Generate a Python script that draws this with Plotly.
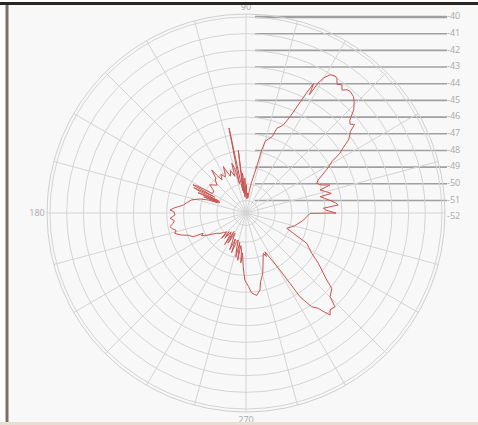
import plotly.graph_objects as go

# Measured radiation pattern: azimuth (deg) and received level (dB)
angle_deg = [
    0, 2, 3.5, 5, 6.5, 8.8, 10.5, 12.4, 12.9, 15, 17.3, 18.4, 20.5, 22.8, 24.5,
    27.2, 29, 30.9, 32.4, 34, 35.5, 37, 38, 39.2, 40.5, 41.8, 43.8, 45.5, 47.3,
    49.4, 50.7, 52, 53.2, 54.7, 56, 57, 58.7, 60.1, 61, 61.8, 62.4, 63.2, 64.2,
    65.4, 67, 68.5, 70, 71, 73, 75, 76, 77, 78, 80, 81.5, 83, 85, 87, 89, 90,
    92, 93.5, 95, 96, 97, 98, 99.5, 101.3, 102.5, 104, 106, 106.9, 110, 113,
    115, 116, 118, 120, 123, 126, 127.7, 128.6, 131, 133, 136, 138, 142, 145,
    147, 150, 151, 152, 153, 154, 155, 156, 157, 158, 159, 160, 161, 163, 166.5,
    170, 172.7, 174.7, 176, 177.7, 179, 181.6, 184, 186, 188, 190, 191.6, 194,
    196, 198.9, 201, 204.2, 205.4, 207, 210.3, 212, 214.7, 218, 221, 224, 226,
    228, 230, 232, 234, 236, 237, 239, 241.5, 244, 246, 248, 250, 252, 254, 255,
    257, 258, 260, 261, 263, 264, 265, 267, 268, 269, 272, 274, 277.4, 280.3,
    282, 284, 285.5, 288, 290, 293.2, 295, 296.1, 298.7, 300.8, 302, 302.8, 305,
    307.2, 308, 309.5, 311, 313.5, 315.1, 318.7, 320.3, 323, 325.2, 328.5,
    333.5, 336.8, 339.4, 345, 352, 359.7, 360,
]
level_db = [
    -46.35, -46.95, -47.1, -46.2, -46.35, -46.7, -46.95, -47.2, -46.5, -46.8,
    -47.1, -46.45, -46.95, -47.15, -47.0, -46.5, -46.1, -45.75, -45.1, -44.7,
    -44.2, -43.95, -43.8, -43.35, -43.55, -43.4, -42.8, -42.5, -42.25, -42.15,
    -42.2, -42.4, -42.15, -42.3, -42.0, -41.95, -42.05, -42.4, -42.85, -43.7,
    -42.99, -43.65, -44.55, -45.4, -46.0, -46.2, -46.35, -46.9, -47.1, -47.3,
    -47.85, -48.9, -49.35, -49.95, -50.4, -50.85, -50.55, -50.9, -50.05, -50.65,
    -49.65, -50.8, -49.35, -50.55, -47.95, -50.4, -49.95, -46.55, -49.95, -49.05,
    -48.65, -49.45, -49.05, -49.35, -49.0, -48.65, -49.1, -49.25, -48.99, -49.3,
    -48.87, -48.45, -48.99, -49.05, -49.35, -49.25, -49.0, -49.35, -49.45, -49.4,
    -48.45, -48.15, -49.65, -48.27, -48.75, -49.95, -48.63, -50.07, -49.05, -49.95,
    -49.35, -48.87, -48.39, -48.15, -47.97, -47.67, -47.43, -47.19, -47.43, -47.49,
    -47.19, -47.43, -47.35, -47.13, -47.19, -47.43, -47.31, -47.67, -48.03, -48.28,
    -48.91, -48.75, -49.13, -49.35, -49.61, -49.77, -49.95, -50.13, -49.65, -50.25,
    -49.77, -50.31, -50.13, -49.47, -50.43, -49.65, -50.37, -49.95, -49.35, -50.07,
    -49.23, -49.95, -50.07, -49.65, -49.05, -49.95, -48.87, -49.77, -49.53, -48.75,
    -49.35, -48.53, -48.15, -47.73, -47.33, -46.95, -46.77, -47.07, -47.55, -47.81,
    -47.99, -48.45, -48.75, -49.12, -48.87, -49.16, -48.53, -47.77, -46.77, -45.77,
    -44.89, -44.57, -44.29, -43.82, -44.07, -44.0, -44.63, -44.91, -45.46, -46.06,
    -46.47, -47.13, -47.68, -48.66, -49.14, -48.75, -48.33, -47.91, -46.35,
]

# Radial scale
r_min, r_max = -51.75, -39.82
ring_ticks = [-51, -50, -49, -48, -47, -46, -45, -44, -43, -42, -41, -40]
scale_labels = [-40, -41, -42, -43, -44, -45, -46, -47, -48, -49, -50, -51, -52]

# Angular grid every 15 deg, labels only on the cardinal directions
spoke_angles = list(range(0, 360, 15))
spoke_text = [str(a) if a in (90, 180, 270) else "" for a in spoke_angles]

W, H = 478, 425
cx, cy, R = 246, 213, 199  # plot centre and outer radius in pixels

grid_col = "#d4d4d4"
label_col = "#a8a8a8"

fig = go.Figure()

# Pattern curve
fig.add_trace(go.Scatterpolar(
    r=level_db, theta=angle_deg, mode="lines",
    line=dict(color="#c8524f", width=1),
    hoverinfo="skip",
))

# Level scale: horizontal guide lines with labels to the right
def frac(v):
    return (v - r_min) / (r_max - r_min)

for v in scale_labels:
    y = frac(v)
    if v != -52:
        fig.add_trace(go.Scatter(
            x=[0.045, 1.01], y=[y, y], mode="lines",
            line=dict(color="#a0a0a0", width=1.6 if v != -40 else 2.6),
            xaxis="x", yaxis="y", hoverinfo="skip",
        ))
    fig.add_trace(go.Scatter(
        x=[1.01], y=[y], mode="text", text=[str(v)],
        textposition="middle right",
        textfont=dict(size=9, color=label_col, family="Open Sans"),
        xaxis="x", yaxis="y", hoverinfo="skip", cliponaxis=False,
    ))

xd = [(cx - R) / W, 1.0]
yd = [1 - (cy + R) / H, 1 - (cy - R) / H]

fig.update_layout(
    width=W, height=H,
    margin=dict(l=0, r=0, t=0, b=0),
    paper_bgcolor="#f8f8f8",
    plot_bgcolor="rgba(0,0,0,0)",
    showlegend=False,
    polar=dict(
        domain=dict(x=[(cx - R) / W, (cx + R) / W], y=yd),
        bgcolor="rgba(0,0,0,0)",
        radialaxis=dict(
            range=[r_min, r_max], tickvals=ring_ticks,
            showticklabels=False, ticks="", showline=False,
            gridcolor=grid_col, gridwidth=1,
        ),
        angularaxis=dict(
            rotation=0, direction="counterclockwise",
            tickvals=spoke_angles, ticktext=spoke_text, ticks="",
            gridcolor=grid_col, gridwidth=1,
            showline=True, linecolor="#cfcfcf", linewidth=1,
            tickfont=dict(size=9, color=label_col, family="Open Sans"),
        ),
    ),
    xaxis=dict(domain=xd, range=[-1, (W - (cx - R)) / R - 1], visible=False,
               fixedrange=True),
    yaxis=dict(domain=yd, range=[-1, 1], visible=False, fixedrange=True),
    shapes=[
        # window frame
        dict(type="rect", xref="paper", yref="paper", x0=0, x1=6 / W, y0=0, y1=1,
             fillcolor="white", line=dict(width=0), layer="below"),
        dict(type="line", xref="paper", yref="paper", x0=7 / W, x1=7 / W,
             y0=0, y1=1 - 4 / H, line=dict(color="#7a7068", width=3)),
        dict(type="rect", xref="paper", yref="paper", x0=0, x1=1,
             y0=1 - 2 / H, y1=1, fillcolor="white", line=dict(width=0)),
        dict(type="line", xref="paper", yref="paper", x0=0, x1=1,
             y0=1 - 3.5 / H, y1=1 - 3.5 / H, line=dict(color="#2b2622", width=3)),
        dict(type="rect", xref="paper", yref="paper", x0=0, x1=1,
             y0=0, y1=3 / H, fillcolor="#e6dfd2", line=dict(width=0)),
    ],
)

fig.write_html("out.html")
